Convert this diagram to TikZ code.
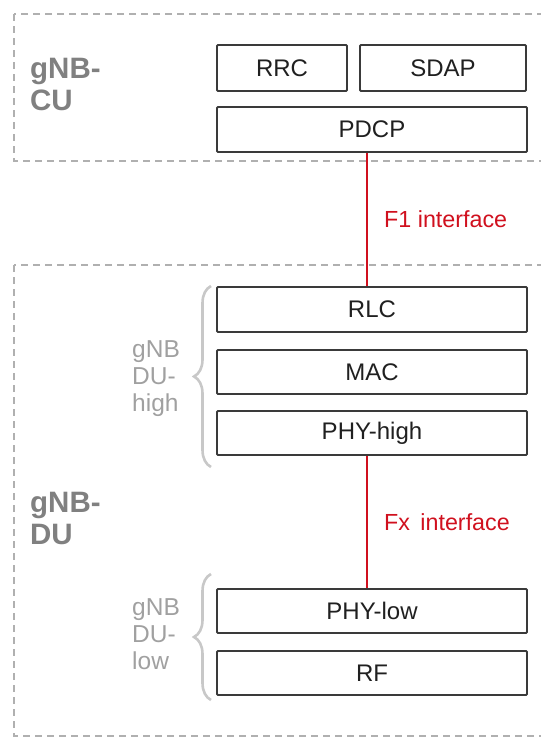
\documentclass[tikz,border=0pt]{standalone}
\usepackage{fontspec}
\setmainfont{Liberation Sans}
\usetikzlibrary{decorations.pathreplacing}
\definecolor{dashgray}{HTML}{B0B0B0}
\definecolor{labgray}{HTML}{808080}
\definecolor{sidegray}{HTML}{A0A0A0}
\definecolor{bracegray}{HTML}{C8C8C8}
\definecolor{boxline}{HTML}{3A3A3A}
\definecolor{boxtext}{HTML}{202020}
\definecolor{ifred}{HTML}{D0101E}
\begin{document}
\begin{tikzpicture}[x=1pt,y=-1pt,
  layerbox/.style={draw=boxline, line width=1.8pt, rounded corners=1pt, inner sep=0pt,
    text=boxtext, font=\fontsize{24}{26}\selectfont},
  region/.style={draw=dashgray, line width=1.3pt, dash pattern=on 7pt off 5pt},
  biglab/.style={text=labgray, font=\bfseries\fontsize{29.5}{32}\selectfont, align=left, anchor=north west, inner sep=0pt},
  sidelab/.style={text=sidegray, font=\fontsize{24.5}{27}\selectfont, align=left, anchor=west, inner sep=0pt},
  ifline/.style={draw=ifred, line width=2.8pt},
  iflab/.style={text=ifred, font=\fontsize{23.3}{25}\selectfont, anchor=west, inner sep=0pt},
  grpbrace/.style={draw=bracegray, line width=2.6pt, decorate, decoration={brace, amplitude=17pt}}]
\useasboundingbox (0,0) rectangle (541,737);
\begin{scope}
\clip (0,0) rectangle (541,737);
\draw[region] (14,14) rectangle (570,161);
\draw[region] (14,265) rectangle (570,736);
\end{scope}

\node[biglab] (cu) at (30,58) {gNB-\\CU};
\node[biglab] (du) at (30,492) {gNB-\\DU};

\node[layerbox, minimum width=130pt, minimum height=46pt] (rrc) at (282,68) {RRC};
\node[layerbox, minimum width=166pt, minimum height=46pt] (sdap) at (443,68) {SDAP};
\node[layerbox, minimum width=310pt, minimum height=45pt] (pdcp) at (372,129.5) {PDCP};

\node[layerbox, minimum width=310pt, minimum height=45pt] (rlc) at (372,309.5) {RLC};
\node[layerbox, minimum width=310pt, minimum height=44pt] (mac) at (372,372) {MAC};
\node[layerbox, minimum width=310pt, minimum height=44pt] (phyh) at (372,433) {PHY-high};
\node[layerbox, minimum width=310pt, minimum height=44pt] (phyl) at (372,611) {PHY-low};
\node[layerbox, minimum width=310pt, minimum height=44pt] (rf) at (372,673) {RF};

\coordinate (redx) at (367,0);
\draw[ifline] (pdcp.south -| redx) -- (rlc.north -| redx);
\draw[ifline] (phyh.south -| redx) -- (phyl.north -| redx);
\node[iflab] (f1) at (384,219) {F1 interface};
\node[iflab] (fx) at (384,522) {Fx\, interface};

\coordinate (bh1) at (211,467);
\coordinate (bh2) at (211,286);
\coordinate (bl1) at (211,700);
\coordinate (bl2) at (211,574);
\draw[grpbrace] (bh1) -- (bh2);
\draw[grpbrace] (bl1) -- (bl2);

\node[sidelab] (duh) at (132,379) {gNB\\DU-\\high};
\node[sidelab] (dul) at (132,634) {gNB\\DU-\\low};
\end{tikzpicture}
\end{document}
